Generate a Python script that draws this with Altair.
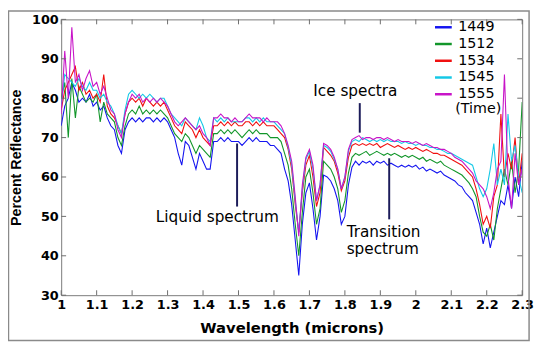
import altair as alt
import pandas as pd

# wavelength grid (microns), 1.00 .. 2.30 every 0.01
wavelength = [round(1.0 + i * 0.01, 2) for i in range(131)]

times = ["1449", "1512", "1534", "1545", "1555"]
colors = ["#1414f0", "#12962a", "#f01010", "#14c8e6", "#c814c8"]

r1449 = [73, 78, 80, 84, 82, 79, 80, 79, 81, 78,
         79, 77, 78, 75, 73, 72, 68, 66, 72, 74,
         75, 74, 75, 74, 75, 75, 74, 75, 74, 75,
         74, 72, 70, 66, 63, 69, 68, 65, 62, 66,
         64, 62, 62, 69, 69, 70, 69, 70, 69, 69,
         69, 68, 69, 70, 69, 70, 69, 69, 69, 68,
         68, 67, 66, 62, 59, 53, 44, 35, 48, 56,
         58.5, 52, 44, 50, 60.5, 60, 59, 57, 54, 48,
         50, 58, 62.5, 64, 63, 64, 63.5, 64, 63, 64,
         63.5, 64, 63, 63.5, 63, 62.5, 63, 62.5, 63, 62.5,
         63, 62, 62.5, 61.5, 62, 61.5, 61, 61.5, 60.5, 60,
         59.5, 59, 58, 57.5, 56, 55, 54, 51, 48, 43,
         47, 42, 46, 50, 54, 53, 58, 52, 60, 55, 64]

r1512 = [80, 84, 70, 85, 75, 83, 81, 79, 80, 79,
         81, 74, 79, 76, 75, 74, 70, 68, 73, 76,
         77, 76, 78, 76, 77, 76, 77, 76, 77, 76,
         75, 73, 71, 70, 69, 71, 70, 68, 66, 68,
         67, 66, 65, 71, 71, 72, 71, 72, 71, 72,
         71, 70, 71, 72, 71, 72, 71, 71, 71, 70,
         70, 70, 69, 66, 63, 57, 48, 40, 51, 60,
         62, 56, 48, 52, 64, 63, 62, 60, 57, 51,
         54, 61, 65, 66, 65.5, 66, 66.5, 65.5, 66, 66.5,
         66, 65.5, 66, 65.5, 66, 65.5, 65, 65.5, 65, 65.5,
         65, 64.5, 65, 64, 64.5, 64, 63.5, 64, 63, 62.5,
         62, 61.5, 61, 60.5, 59.5, 58.5, 57, 55, 50, 46,
         45, 48, 44, 52, 57, 62, 58, 64, 56, 62, 79]

r1534 = [77, 82, 84, 86, 88, 82, 84, 81, 82, 80,
         81, 79, 86, 78, 76, 75, 73, 71, 76, 79,
         80, 79, 80, 78, 80, 79, 78, 79, 78, 79,
         77, 75, 73, 72, 71, 74, 73, 72, 70, 72,
         70, 69, 68, 73, 73, 74, 73, 74, 73, 74,
         73, 73, 74, 74, 73, 74, 73, 74, 73, 73,
         73, 72, 71, 70, 67, 62, 53, 46, 56, 63,
         65.5, 60, 52.5, 56, 67.5, 66.5, 65.5, 64, 61, 56.5,
         59, 65, 68, 68.5, 68, 68.5, 68, 68.5, 68, 68.5,
         67.5, 68, 68.5, 68, 67.5, 68, 67.5, 67, 67.5, 67,
         67.5, 67, 66.5, 67, 66.5, 66, 66, 65.5, 65.5, 65,
         64.5, 64, 63.5, 63, 62, 61, 60, 57, 53, 48,
         50, 47, 55, 58, 76, 60, 66, 62, 70, 58, 66]

r1545 = [78, 86, 85, 84, 83, 85, 83, 82, 84, 82,
         82, 80, 81, 79, 78, 76, 73, 71, 77, 81,
         82, 81, 80, 81, 80, 81, 80, 79, 80, 80,
         78, 76, 75, 74, 73, 75, 74, 73, 72, 75,
         73, 70, 69, 75, 74, 75, 74, 75, 74, 74,
         74, 74, 75, 75, 74, 75, 74, 75, 74, 74,
         74, 73, 72, 71, 67.5, 63, 54, 46, 57, 64.5,
         66.5, 62, 54, 58, 68, 67.5, 66.5, 64.5, 62, 57,
         60, 66.5, 69, 69.5, 69, 70, 69.5, 69, 69.5, 69,
         69.5, 69, 69.5, 69, 69, 69, 68.5, 69, 68.5, 68.5,
         68, 68.5, 68, 68, 67.5, 67.5, 67, 67, 66.5, 66,
         66, 65.5, 65, 64.5, 64, 63.5, 63, 60, 57, 55,
         57, 62, 68.5, 58, 62, 58, 76, 64, 68, 60, 56]

r1555 = [76, 92, 80, 98, 84, 86, 82, 85, 87, 83,
         84, 81, 83, 80, 77, 76, 72, 70, 76, 79,
         81, 80, 81, 79, 80, 79, 80, 79, 80, 79,
         78, 76, 74, 73, 74, 75, 74, 73, 72, 73,
         71, 70, 68, 75, 75, 76, 75, 75, 74, 75,
         74, 74, 75, 76, 75, 75, 75, 74, 75, 74,
         74, 74, 73, 71, 68, 64, 55, 45, 58, 65,
         67, 63, 54, 58, 68.5, 68, 67, 65, 62, 57,
         60, 67, 69.5, 70, 70.5, 69.5, 70, 70, 69.5, 70,
         70, 69.5, 70, 69.5, 69, 69.5, 69, 69, 69, 68.5,
         69, 68.5, 68, 68.5, 68, 67.5, 67.5, 67, 67, 66.5,
         66, 65, 64.5, 64, 63, 62, 61, 59, 58, 57,
         55, 52, 56, 62, 64, 86, 60, 52, 66, 58, 62]

series = [r1449, r1512, r1534, r1545, r1555]

x_ticks = [1.0, 1.1, 1.2, 1.3, 1.4, 1.5, 1.6, 1.7, 1.8, 1.9, 2.0, 2.1, 2.2, 2.3]
y_ticks = [30, 40, 50, 60, 70, 80, 90, 100]

# annotations
note_text = ["Ice spectra", "Liquid spectrum", "Transition", "spectrum"]
note_x = [1.711, 1.267, 1.805, 1.805]
note_y = [81.75, 49.75, 46.0, 41.75]
pointer_x = [1.842, 1.496, 1.925]
pointer_top = [78.75, 68.5, 64.75]
pointer_bottom = [71.25, 52.5, 49.25]

rows = []
for t, vals in zip(times, series):
    for w, v in zip(wavelength, vals):
        rows.append({"wavelength": w, "reflectance": v, "time": t})
df = pd.DataFrame(rows)

xs = alt.Scale(domain=[1.0, 2.3], nice=False, zero=False)
ys = alt.Scale(domain=[30, 100], nice=False, zero=False)

xaxis = alt.Axis(values=x_ticks, format=".1~f", ticks=False, domain=False, grid=False,
                 labelFont="DejaVu Sans", labelFontWeight="bold", labelFontSize=13,
                 labelColor="black", labelPadding=4, labelFlush=False, labelOverlap=False,
                 title="Wavelength (microns)", titleFont="DejaVu Sans",
                 titleFontWeight="bold", titleFontSize=15, titleColor="black",
                 titlePadding=9)
yaxis = alt.Axis(values=y_ticks, ticks=False, domain=False, grid=False,
                 labelFont="DejaVu Sans", labelFontWeight="bold", labelFontSize=13,
                 labelColor="black", labelPadding=3, labelOverlap=False,
                 title="Percent Reflectance", titleFont="Liberation Sans",
                 titleFontWeight="bold", titleFontSize=14.5, titleColor="black",
                 titlePadding=8)

X = alt.X("wavelength:Q", scale=xs, axis=xaxis)
Y = alt.Y("reflectance:Q", scale=ys, axis=yaxis)

lines = alt.Chart(df).mark_line(strokeWidth=1.1, clip=True).encode(
    x=X, y=Y,
    color=alt.Color("time:N", scale=alt.Scale(domain=times, range=colors),
                    legend=alt.Legend(orient="none", legendX=378, legendY=-2, title=None,
                                      symbolType="stroke", symbolSize=289,
                                      symbolStrokeWidth=2.5, labelFont="DejaVu Sans",
                                      labelFontSize=14.5, labelOffset=5, rowPadding=-1.5,
                                      padding=0, labelColor="black", symbolOpacity=1)),
)

xt = pd.DataFrame({"wavelength": x_ticks})
yt = pd.DataFrame({"reflectance": y_ticks})
tick_col = "#6e6e6e"
xt_bottom = alt.Chart(xt).mark_rule(color=tick_col).encode(x=X, y=alt.value(280), y2=alt.value(275))
xt_top = alt.Chart(xt).mark_rule(color=tick_col).encode(x=X, y=alt.value(0), y2=alt.value(5))
yt_left = alt.Chart(yt).mark_rule(color=tick_col).encode(y=Y, x=alt.value(0), x2=alt.value(5))
yt_right = alt.Chart(yt).mark_rule(color=tick_col).encode(y=Y, x=alt.value(468), x2=alt.value(463))

notes = pd.DataFrame({"wavelength": note_x, "reflectance": note_y, "label": note_text})
note_marks = alt.Chart(notes).mark_text(align="left", baseline="middle", font="DejaVu Sans",
                                        fontSize=15.5, color="black").encode(
    x=X, y=Y, text="label:N")

pointers = pd.DataFrame({"wavelength": pointer_x, "reflectance": pointer_top,
                         "bottom": pointer_bottom})
pointer_marks = alt.Chart(pointers).mark_rule(color="#1c1c5a", strokeWidth=2).encode(
    x=X, y=Y, y2="bottom:Q")

time_label = alt.Chart(pd.DataFrame({"t": ["(Time)"]})).mark_text(
    align="left", baseline="middle", font="DejaVu Sans", fontSize=14.5, color="black").encode(
    x=alt.value(400), y=alt.value(91), text="t:N")

frame = alt.Chart(pd.DataFrame({"a": [0]})).mark_rect(
    fillOpacity=0, stroke="#8a8a8a", strokeWidth=1.5).encode(
    x=alt.value(-53.5), x2=alt.value(475), y=alt.value(-8.5), y2=alt.value(326))

chart = alt.layer(
    frame, lines, xt_bottom, xt_top, yt_left, yt_right, pointer_marks, note_marks, time_label
).properties(
    width=468, height=280,
    autosize=alt.AutoSizeParams(type="none"),
    padding={"left": 54, "top": 9, "right": 12, "bottom": 48},
    background="white",
).configure_view(stroke="#7a7a7a", strokeWidth=1)

chart.save("out.html", embed_options={"renderer": "svg", "actions": False})
